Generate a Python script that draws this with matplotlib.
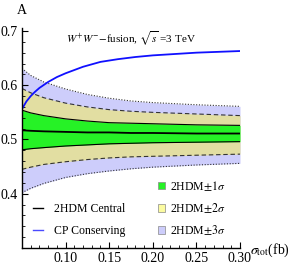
import numpy as np
import matplotlib
matplotlib.use("Agg")
import matplotlib.pyplot as plt
from matplotlib.lines import Line2D
from matplotlib.patches import Patch
from matplotlib.ticker import MultipleLocator, FormatStrFormatter

plt.rcParams['font.family'] = ['Liberation Serif', 'DejaVu Serif']
plt.rcParams['mathtext.fontset'] = 'stix'

# CP conserving curve
x_cp = [0.05, 0.055, 0.06, 0.065, 0.07, 0.08, 0.09, 0.10, 0.12, 0.14, 0.16, 0.18, 0.20, 0.22, 0.25, 0.30]
y_cp = [0.556, 0.570, 0.580, 0.588, 0.595, 0.606, 0.615, 0.622, 0.634, 0.643, 0.648, 0.652, 0.655, 0.657, 0.660, 0.663]

# 2HDM bands
x_band = [0.05, 0.06, 0.075, 0.10, 0.125, 0.15, 0.175, 0.20, 0.25, 0.30]
up3 = [0.631, 0.618, 0.606, 0.593, 0.583, 0.576, 0.571, 0.568, 0.564, 0.561]
up2 = [0.594, 0.586, 0.577, 0.567, 0.560, 0.555, 0.552, 0.550, 0.547, 0.544]
up1 = [0.554, 0.549, 0.544, 0.538, 0.534, 0.531, 0.530, 0.529, 0.527, 0.526]
cen = [0.517, 0.516, 0.515, 0.514, 0.513, 0.513, 0.512, 0.512, 0.511, 0.511]
lo1 = [0.481, 0.483, 0.485, 0.488, 0.490, 0.492, 0.493, 0.494, 0.495, 0.496]
lo2 = [0.445, 0.449, 0.454, 0.459, 0.463, 0.466, 0.468, 0.469, 0.471, 0.473]
lo3 = [0.402, 0.410, 0.419, 0.430, 0.437, 0.442, 0.446, 0.449, 0.453, 0.456]

c1 = '#26f226'
c2 = '#e2dea2'
c3 = '#cdcdfb'

fig = plt.figure(figsize=(3.0, 2.68), dpi=100)
ax = fig.add_axes([0.0733, 0.0746, 0.7267, 0.82])

ax.fill_between(x_band, lo3, up3, color=c3, lw=0)
ax.fill_between(x_band, lo2, up2, color=c2, lw=0)
ax.fill_between(x_band, lo1, up1, color=c1, lw=0)
ax.plot(x_band, up3, color='#333333', lw=0.8, ls=(0, (1, 1.5)))
ax.plot(x_band, lo3, color='#333333', lw=0.8, ls=(0, (1, 1.5)))
ax.plot(x_band, up2, color='#333333', lw=0.8, ls=(0, (4, 2.5)))
ax.plot(x_band, lo2, color='#333333', lw=0.8, ls=(0, (4, 2.5)))
ax.plot(x_band, up1, color='black', lw=0.8)
ax.plot(x_band, lo1, color='black', lw=0.8)
ax.plot(x_band, cen, color='black', lw=1.3)
ax.plot(x_cp, y_cp, color='#1010ff', lw=1.3)

ax.set_xlim(0.05, 0.30)
ax.set_ylim(0.30, 0.705)
for s in ['top', 'right']:
    ax.spines[s].set_visible(False)
ax.spines['left'].set_linewidth(1.0)
ax.spines['bottom'].set_linewidth(1.0)
ax.xaxis.set_minor_locator(MultipleLocator(0.01))
ax.yaxis.set_minor_locator(MultipleLocator(0.02))
ax.set_xticks([0.10, 0.15, 0.20, 0.25, 0.30])
ax.set_yticks([0.4, 0.5, 0.6, 0.7])
ax.xaxis.set_major_formatter(FormatStrFormatter('%.2f'))
ax.yaxis.set_major_formatter(FormatStrFormatter('%.1f'))
ax.tick_params(which='major', direction='in', length=4, width=0.8, labelsize=10, pad=3)
ax.tick_params(which='minor', direction='in', length=2, width=0.6)

ax.text(0.5, 0.952, r'$W^{+}W^{-}$$-$fusion, $\sqrt{s}$ =3 TeV', transform=ax.transAxes,
        ha='center', va='center', fontsize=8)
fig.text(22 / 300, 1 - 11 / 268, 'A', ha='center', va='center', fontsize=10)
fig.text(250 / 300, 1 - 250 / 268, r'$\sigma_{\rm tot}$(fb)', ha='left', va='center', fontsize=10)

h1 = [Line2D([], [], color='black', lw=1), Line2D([], [], color='#4a4aff', lw=1)]
leg1 = ax.legend(h1, ['2HDM Central', 'CP Conserving'], loc='lower left',
                 bbox_to_anchor=(0.0, 0.0), frameon=False, fontsize=8.5,
                 handlelength=0.85, handletextpad=1.0, labelspacing=0.9)
ax.add_artist(leg1)
h2 = [Patch(facecolor=c1, edgecolor='#888888', lw=0.5),
      Patch(facecolor='#fbfba0', edgecolor='#888888', lw=0.5),
      Patch(facecolor=c3, edgecolor='#888888', lw=0.5)]
ax.legend(h2, [r'2HDM$\pm1\sigma$', r'2HDM$\pm2\sigma$', r'2HDM$\pm3\sigma$'],
          loc='lower right', bbox_to_anchor=(0.982, 0.0), frameon=False, fontsize=8.5,
          handlelength=0.6, handleheight=0.6, handletextpad=0.4, labelspacing=0.72)

fig.savefig('out.png', dpi=100)
